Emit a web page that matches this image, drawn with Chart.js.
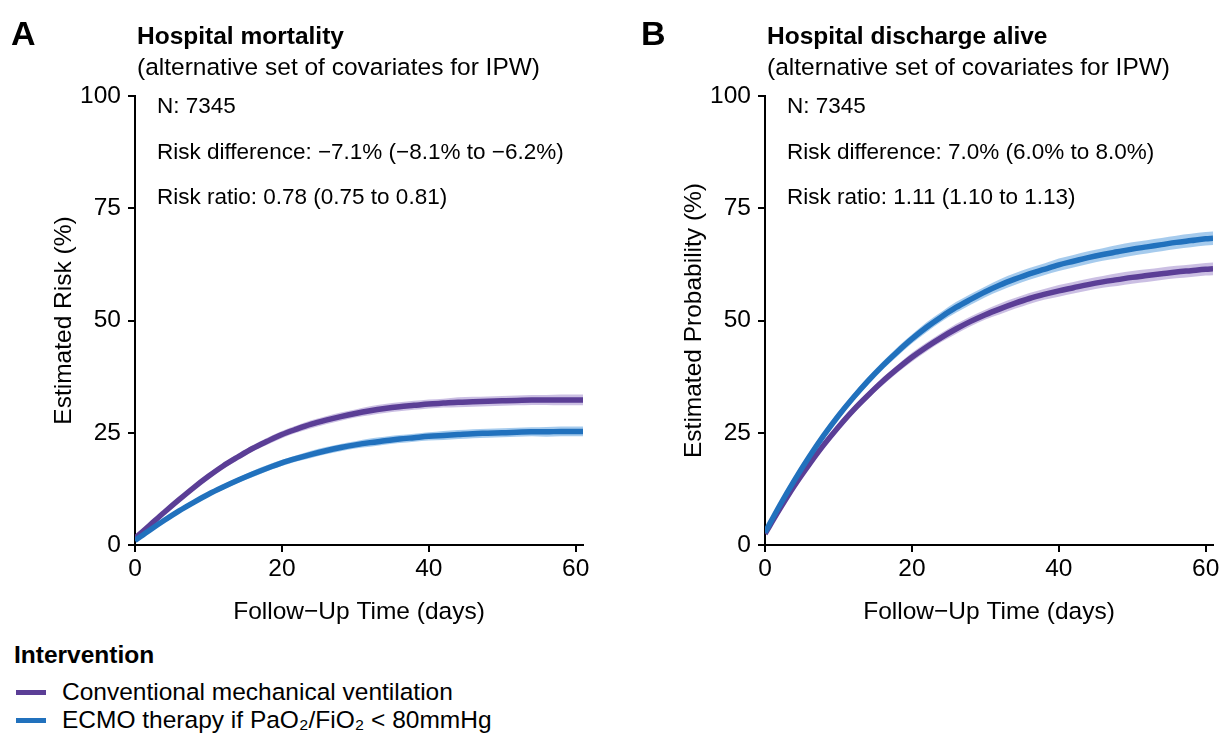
<!DOCTYPE html>
<html>
<head>
<meta charset="utf-8">
<script src="https://cdn.jsdelivr.net/npm/chart.js@4.4.1/dist/chart.umd.min.js"></script>
<style>
  body { margin: 0; background: #fff; font-family: "Liberation Sans", Arial, sans-serif; color: #000; }
  #wrap { position: relative; width: 1230px; height: 743px; overflow: hidden; }
  .abs { position: absolute; white-space: nowrap; line-height: 1; }
  .letter { font-size: 34px; font-weight: bold; }
  .ttl { font-size: 24.5px; font-weight: bold; }
  .sub { font-size: 24.5px; }
  .legtitle { font-size: 24.5px; font-weight: bold; }
  .legitem { font-size: 24.5px; }
  .swatch { position: absolute; width: 30px; height: 5px; }
  canvas { position: absolute; top: 0; }
</style>
</head>
<body>
<div id="wrap">
  <canvas id="chartA" width="615" height="640" style="left:0;width:615px;height:640px"></canvas>
  <canvas id="chartB" width="615" height="640" style="left:630px;width:615px;height:640px"></canvas>

  <div class="abs letter" style="left:11px;top:16px">A</div>
  <div class="abs ttl" style="left:137px;top:24px">Hospital mortality</div>
  <div class="abs sub" style="left:137px;top:55px">(alternative set of covariates for IPW)</div>

  <div class="abs letter" style="left:641px;top:16px">B</div>
  <div class="abs ttl" style="left:767px;top:24px">Hospital discharge alive</div>
  <div class="abs sub" style="left:767px;top:55px">(alternative set of covariates for IPW)</div>

  <div class="abs legtitle" style="left:14px;top:643px">Intervention</div>
  <div class="swatch" style="left:16px;top:690px;background:#5b3e96"></div>
  <div class="abs legitem" style="left:62px;top:680px">Conventional mechanical ventilation</div>
  <div class="swatch" style="left:16px;top:718px;background:#2171bd"></div>
  <div class="abs legitem" style="left:62px;top:708px">ECMO therapy if PaO₂/FiO₂ &lt; 80mmHg</div>
</div>

<script>
// follow-up days
var days = [0, 2, 4, 6, 8, 10, 12, 14, 16, 18, 20, 22, 24, 26, 28, 30, 32, 34, 36, 38, 40, 42, 44, 46, 48, 50, 52, 54, 56, 58, 60, 61];

// panel A: hospital mortality (%)
var mortConv = [1.5, 4.4, 7.3, 10.1, 12.8, 15.3, 17.6, 19.6, 21.5, 23.1, 24.6, 25.8, 26.9, 27.8, 28.6, 29.3, 29.9, 30.4, 30.8, 31.1, 31.4, 31.6, 31.8, 31.9, 32.0, 32.1, 32.2, 32.3, 32.3, 32.3, 32.3, 32.3];
var mortConvCI = [0.2, 0.3, 0.4, 0.5, 0.5, 0.6, 0.6, 0.7, 0.7, 0.8, 0.8, 0.8, 0.9, 0.9, 0.9, 0.9, 1.0, 1.0, 1.0, 1.0, 1.0, 1.0, 1.1, 1.1, 1.1, 1.1, 1.1, 1.1, 1.1, 1.2, 1.2, 1.2];
var mortEcmo = [1.0, 3.3, 5.5, 7.6, 9.5, 11.3, 12.9, 14.4, 15.8, 17.1, 18.3, 19.3, 20.2, 21.0, 21.7, 22.3, 22.8, 23.2, 23.6, 23.9, 24.2, 24.4, 24.6, 24.8, 24.9, 25.0, 25.1, 25.2, 25.2, 25.3, 25.3, 25.3];
var mortEcmoCI = [0.2, 0.3, 0.4, 0.4, 0.5, 0.5, 0.6, 0.6, 0.7, 0.7, 0.7, 0.7, 0.8, 0.8, 0.8, 0.8, 0.9, 0.9, 0.9, 0.9, 0.9, 1.0, 1.0, 1.0, 1.0, 1.0, 1.0, 1.0, 1.1, 1.1, 1.1, 1.1];

// panel B: discharged alive (%)
var dischConv = [2.5, 8.0, 13.2, 17.9, 22.3, 26.3, 30.0, 33.3, 36.4, 39.2, 41.8, 44.1, 46.2, 48.1, 49.8, 51.3, 52.6, 53.8, 54.9, 55.8, 56.6, 57.3, 58.0, 58.6, 59.1, 59.6, 60.0, 60.4, 60.8, 61.1, 61.4, 61.5];
var dischConvCI = [0.3, 0.4, 0.5, 0.6, 0.7, 0.7, 0.8, 0.8, 0.9, 0.9, 1.0, 1.0, 1.0, 1.1, 1.1, 1.1, 1.2, 1.2, 1.2, 1.2, 1.3, 1.3, 1.3, 1.3, 1.4, 1.4, 1.4, 1.4, 1.4, 1.4, 1.4, 1.4];
var dischEcmo = [2.8, 8.8, 14.4, 19.6, 24.4, 28.8, 32.8, 36.5, 39.9, 43.0, 45.9, 48.5, 50.8, 52.9, 54.7, 56.4, 57.9, 59.2, 60.4, 61.4, 62.4, 63.2, 64.0, 64.7, 65.3, 65.9, 66.4, 66.9, 67.4, 67.8, 68.2, 68.3];
var dischEcmoCI = [0.3, 0.4, 0.5, 0.6, 0.7, 0.8, 0.8, 0.9, 0.9, 1.0, 1.0, 1.1, 1.1, 1.2, 1.2, 1.2, 1.3, 1.3, 1.3, 1.3, 1.4, 1.4, 1.4, 1.4, 1.5, 1.5, 1.5, 1.5, 1.5, 1.5, 1.5, 1.5];

var xTicks = [0, 20, 40, 60];
var yTicks = [0, 25, 50, 75, 100];

var purple = '#5b3e96';
var purpleBand = 'rgba(124, 96, 186, 0.40)';
var blue = '#2171bd';
var blueBand = 'rgba(92, 160, 222, 0.55)';
var font = '"Liberation Sans", Arial, sans-serif';

function pts(vals, ci, sign) {
    return days.map(function (d, i) {
        return { x: d, y: vals[i] + sign * (ci ? ci[i] : 0) };
    });
}

function datasets(conv, convCI, ecmo, ecmoCI) {
    var line = { borderWidth: 5.5, pointRadius: 0, fill: false, cubicInterpolationMode: 'monotone', order: 0 };
    var band = { borderWidth: 0, pointRadius: 0, cubicInterpolationMode: 'monotone', order: 1, borderColor: 'rgba(0,0,0,0)' };
    return [
        Object.assign({ label: 'ECMO', data: pts(ecmo, null, 0), borderColor: blue }, line),
        Object.assign({ label: 'Conv', data: pts(conv, null, 0), borderColor: purple }, line),
        Object.assign({ label: 'ecmoLo', data: pts(ecmo, ecmoCI, -1), fill: false }, band),
        Object.assign({ label: 'ecmoHi', data: pts(ecmo, ecmoCI, 1), fill: '-1', backgroundColor: blueBand }, band),
        Object.assign({ label: 'convLo', data: pts(conv, convCI, -1), fill: false }, band),
        Object.assign({ label: 'convHi', data: pts(conv, convCI, 1), fill: '-1', backgroundColor: purpleBand }, band)
    ];
}

// axis titles and in-plot notes
var textPlugin = {
    id: 'texts',
    afterDraw: function (chart) {
        var o = chart.options.plugins.texts;
        var ctx = chart.ctx, a = chart.chartArea;
        ctx.save();
        ctx.fillStyle = '#000';
        ctx.textBaseline = 'middle';
        ctx.font = '22.5px ' + font;
        ctx.textAlign = 'left';
        o.notes.forEach(function (t, i) {
            ctx.fillText(t, a.left + 22, a.top + 11 + i * 45.5);
        });
        ctx.font = '24.5px ' + font;
        ctx.textAlign = 'center';
        ctx.fillText(o.xTitle, (a.left + a.right) / 2, a.bottom + 67);
        ctx.translate(o.yTitleX, (a.top + a.bottom) / 2);
        ctx.rotate(-Math.PI / 2);
        ctx.fillText(o.yTitle, 0, 0);
        ctx.restore();
    }
};

function makeChart(id, ds, notes, yTitle) {
    var axisCommon = {
        type: 'linear',
        border: { display: true, color: '#000', width: 2 },
        grid: { display: true, drawOnChartArea: false, drawTicks: true, tickLength: 7, color: '#000', lineWidth: 2 },
        ticks: { color: '#000', font: { family: font, size: 24.5 } }
    };
    return new Chart(document.getElementById(id).getContext('2d'), {
        type: 'line',
        data: { datasets: ds },
        plugins: [textPlugin],
        options: {
            responsive: false,
            animation: false,
            layout: { padding: { top: 96, right: 32, left: 0, bottom: 0 } },
            scales: {
                x: Object.assign({}, axisCommon, {
                    min: 0, max: 61,
                    afterBuildTicks: function (s) { s.ticks = xTicks.map(function (v) { return { value: v }; }); },
                    afterFit: function (s) { s.height = 95; },
                    ticks: Object.assign({}, axisCommon.ticks, { padding: 3, maxRotation: 0 })
                }),
                y: Object.assign({}, axisCommon, {
                    min: 0, max: 100,
                    afterBuildTicks: function (s) { s.ticks = yTicks.map(function (v) { return { value: v }; }); },
                    afterFit: function (s) { s.width = 135; },
                    ticks: Object.assign({}, axisCommon.ticks, { padding: 7 })
                })
            },
            plugins: {
                legend: { display: false },
                tooltip: { enabled: false },
                texts: { notes: notes, xTitle: 'Follow\u2212Up Time (days)', yTitle: yTitle, yTitleX: 64 }
            }
        }
    });
}

makeChart('chartA', datasets(mortConv, mortConvCI, mortEcmo, mortEcmoCI),
    ['N: 7345', 'Risk difference: \u22127.1% (\u22128.1% to \u22126.2%)', 'Risk ratio: 0.78 (0.75 to 0.81)'],
    'Estimated Risk (%)');

makeChart('chartB', datasets(dischConv, dischConvCI, dischEcmo, dischEcmoCI),
    ['N: 7345', 'Risk difference: 7.0% (6.0% to 8.0%)', 'Risk ratio: 1.11 (1.10 to 1.13)'],
    'Estimated Probability (%)');
</script>
</body>
</html>
